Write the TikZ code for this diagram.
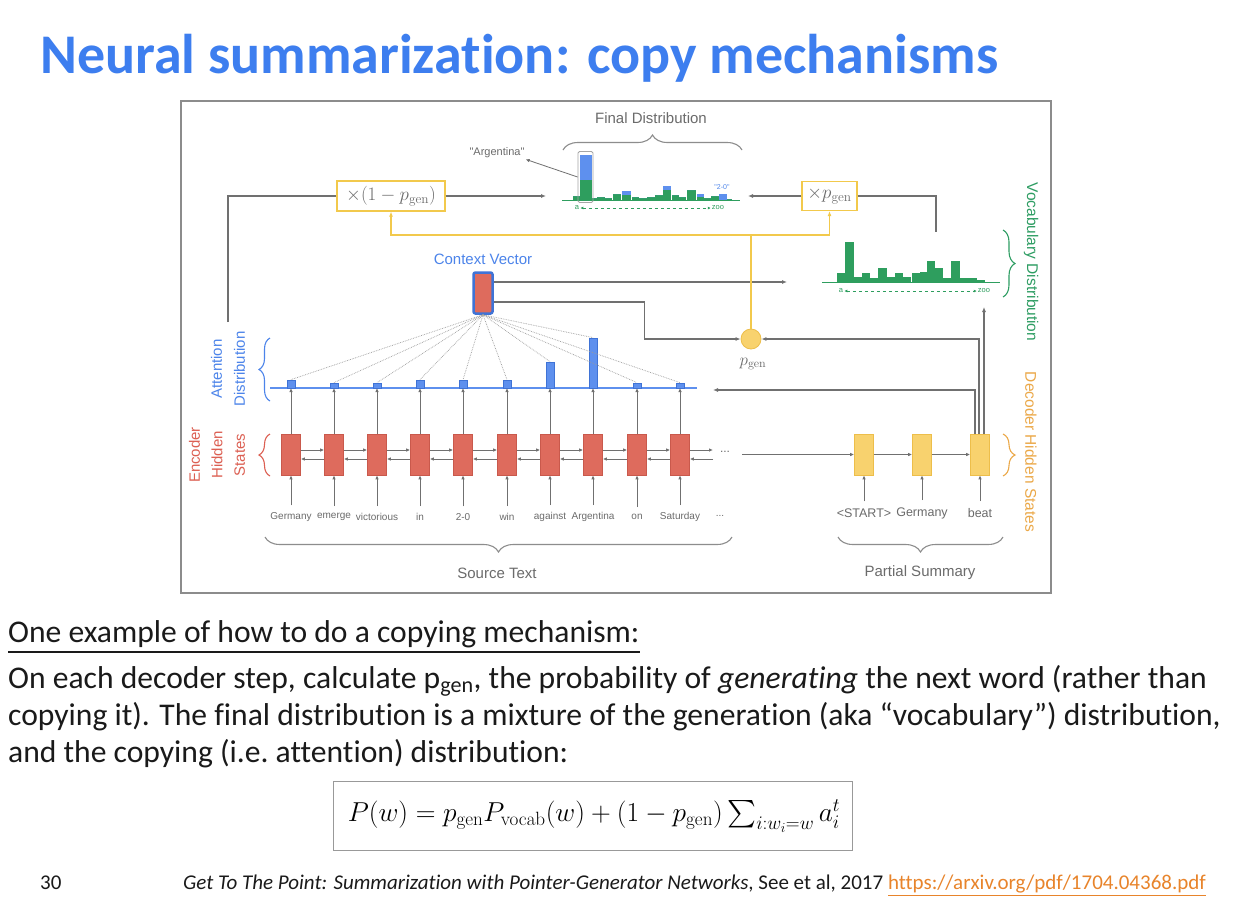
\documentclass[tikz,border=0pt]{standalone}
\usepackage{fix-cm}
\usepackage[no-math]{fontspec}
\setmainfont{Carlito}[Ligatures=NoCommon]
\newfontfamily\dfont{Liberation Sans}
\DeclareFontShape{OMX}{cmex}{m}{n}{<->cmex10}{}
\usetikzlibrary{arrows.meta,decorations.pathreplacing,calc}
\definecolor{titleblue}{HTML}{3D7EEF}
\definecolor{lineg}{HTML}{707070}
\definecolor{txtg}{HTML}{6B6B6B}
\definecolor{frameg}{HTML}{8C8C8C}
\definecolor{encred}{HTML}{DE6B5D}
\definecolor{encredd}{HTML}{C9594C}
\definecolor{attblue}{HTML}{5E90EE}
\definecolor{attblued}{HTML}{3F73D6}
\definecolor{vgreen}{HTML}{2E9E5E}
\definecolor{decy}{HTML}{F8D26E}
\definecolor{decyb}{HTML}{EDBE4A}
\definecolor{yline}{HTML}{F2C94C}
\definecolor{enctxt}{HTML}{DC5F52}
\definecolor{atttxt}{HTML}{4C84EA}
\definecolor{voctxt}{HTML}{2E9D63}
\definecolor{dectxt}{HTML}{EBA848}
\definecolor{urlor}{HTML}{E8842B}
\definecolor{bodytxt}{HTML}{1A1A1A}
\tikzset{
  gl/.style={draw=lineg, line width=1.1pt},
  arr/.style={gl, -{Latex[length=5pt,width=4pt]}},
  sarr/.style={gl, line width=0.9pt, -{Latex[length=4pt,width=3.5pt]}},
  yl/.style={draw=yline, line width=1.3pt},
  yarr/.style={yl, -{Latex[length=5pt,width=4pt]}},
  dtxt/.style={font=\dfont\fontsize{15}{18}\selectfont, text=txtg, inner sep=1pt},
  wtxt/.style={font=\dfont\fontsize{10}{12}\selectfont, text=txtg, inner sep=1pt},
  dwtxt/.style={font=\dfont\fontsize{12.5}{15}\selectfont, text=txtg, inner sep=1pt},
  encbox/.style={draw=encredd, fill=encred, minimum width=19pt, minimum height=41pt, inner sep=0pt, line width=0.6pt},
  decbox/.style={draw=decyb, fill=decy, minimum width=19pt, minimum height=41pt, inner sep=0pt, line width=0.6pt},
  attbar/.style={fill=attblue, draw=attblued, line width=0.4pt, minimum width=8pt, inner sep=0pt, anchor=south},
  mulbox/.style={draw=yline, fill=white, line width=1.2pt, inner sep=0pt, text=txtg},
  brc/.style={decorate, decoration={brace, amplitude=#1}, line width=1.1pt},
  dots/.style={draw=lineg!70, densely dotted, line width=0.7pt},
  body/.style={anchor=base west, inner sep=0pt, text=bodytxt, font=\fontsize{31.6}{36}\selectfont},
}
\begin{document}
\begin{tikzpicture}[x=1pt,y=-1pt]
\useasboundingbox (0,0) rectangle (1234,922);
\fill[white] (0,0) rectangle (1234,922);

% title
\node[anchor=base west, inner sep=0pt, text=titleblue, font=\bfseries\fontsize{56}{60}\selectfont] (title) at (40,73) {Neural summarization: copy mechanisms};

% frame
\node[draw=frameg, line width=1.5pt, minimum width=870pt, minimum height=492pt, anchor=north west, inner sep=0pt] (frame) at (180,100) {};

% ---------- final distribution ----------
\node[dtxt] (fdlab) at (651,118) {Final Distribution};
\draw[brc=15pt, draw=lineg!80] (563,150) -- (742,150);
\foreach \x/\w/\g/\b in {573/7/4/0, 580/12/20/25, 592/5/2/0, 597/8/3/0, 605/7/2/0, 613/8/6/0, 622/9/5/4, 632/7/3/0, 639/8/2/0, 647/8/3/0, 655/8/5/0, 663/8/10/4, 672/7/5/0, 679/7/3/0, 687/9/10/0, 697/7/3/3, 704/7/2/0, 711/8/4/0, 719/8/0/6, 727/5/1/0}
{\fill[vgreen] (\x,200) rectangle ++(\w,-\g);
 \fill[attblue] (\x,200-\g) rectangle ++(\w,-\b);}
\draw[vgreen, line width=1pt] (562,200) -- (740,200);
\node[draw=gray!70, line width=0.8pt, rounded corners=1.5pt, minimum width=15pt, minimum height=51pt, inner sep=0pt] (hl) at (585.5,177) {};
\node[wtxt, font=\dfont\fontsize{11}{13}\selectfont] (arg) at (497,153) {"Argentina"};
\draw[sarr, line width=0.8pt] (hl.west) -- (arg.south east);
\node[inner sep=0pt, text=atttxt, font=\dfont\fontsize{7}{8}\selectfont] (twozero) at (722,187) {"2-0"};
\node[inner sep=1pt, text=vgreen, font=\dfont\fontsize{7.5}{8}\selectfont] (fa) at (577,208) {a};
\node[inner sep=1pt, text=vgreen, font=\dfont\fontsize{7.5}{8}\selectfont] (fz) at (718,208) {zoo};
\draw[vgreen, dashed, line width=0.7pt, {Latex[length=3pt,width=3pt]}-{Latex[length=3pt,width=3pt]}] (fa.east) -- (fz.west);

% multiplier boxes
\node[mulbox, minimum width=108pt, minimum height=30pt] (m1) at (391,196) {\fontsize{19}{22}\selectfont$\times(1-p_{\mathrm{gen}})$};
\node[mulbox, minimum width=55pt, minimum height=29pt] (m2) at (829.5,196) {\fontsize{19}{22}\selectfont$\times p_{\mathrm{gen}}$};
\coordinate (fdl) at (546,196);
\coordinate (fdr) at (748,196);
\draw[arr] (m1.east) -- (fdl);
\draw[arr] (m2.west) -- (fdr);
\coordinate (attout) at (228,322);
\draw[gl] (attout) |- (m1.west);
\coordinate (vtop) at (936,232);
\draw[gl] (m2.east) -| (vtop);

% ---------- vocabulary distribution ----------
\foreach \x/\w/\g in {837/8/9, 845/9/40, 854/8/5, 862/8/9, 870/8/4, 878/9/14, 887/8/5, 895/8/9, 903/8/5, 912/8/9, 920/7/10, 927/8/21, 935/8/14, 943/8/4, 951/9/21, 960/7/4, 967/10/4, 977/8/2}
{\fill[vgreen] (\x,282) rectangle ++(\w,-\g);}
\draw[vgreen, line width=1pt] (822,282) -- (1000,282);
\node[inner sep=1pt, text=vgreen, font=\dfont\fontsize{7.5}{8}\selectfont] (va) at (841,291) {a};
\node[inner sep=1pt, text=vgreen, font=\dfont\fontsize{7.5}{8}\selectfont] (vz) at (984,291) {zoo};
\draw[vgreen, dashed, line width=0.7pt, {Latex[length=3pt,width=3pt]}-{Latex[length=3pt,width=3pt]}] (va.east) -- (vz.west);
\draw[brc=12pt, draw=voctxt] (1003,230) -- (1003,297);
\node[dtxt, text=voctxt, rotate=-90, font=\dfont\fontsize{15.5}{18}\selectfont] (vlab) at (1031,262) {Vocabulary Distribution};

% ---------- context vector ----------
\node[dtxt, text=atttxt] (cvlab) at (483,259) {Context Vector};
\node[fill=encred, draw=attblued, line width=2.5pt, rounded corners=2pt, minimum width=19pt, minimum height=41pt, inner sep=0pt] (cv) at (483,293) {};
\coordinate (vocin) at (787,282);
\draw[arr] ([yshift=11pt]cv.east) -- (vocin);

% p_gen
\node[circle, fill=decy, draw=decyb, line width=0.8pt, minimum size=20pt, inner sep=0pt] (pg) at (751,339) {};
\node[text=txtg, inner sep=0pt, font=\fontsize{17}{20}\selectfont] (pglab) at (753,364) {$p_{\mathrm{gen}}$};
\draw[arr] ([yshift=-9pt]cv.east) -- ++(151,0) |- (pg.west);
\coordinate (yj) at (751,235);
\draw[yarr] (pg.north) -- (yj) -| (m1.south);
\draw[yarr] (yj) -| (m2.south);

% ---------- attention distribution ----------
\coordinate (attL) at (270,388);
\coordinate (attR) at (697,388);
\draw[draw=attblue, line width=1.3pt] (attL) -- (attR);
\foreach \i/\x/\h in {1/291/8, 2/334/5, 3/377/5, 4/420/8, 5/463/8, 6/507/8, 7/550/26, 8/593/50, 9/637/5, 10/680/5}
{\node[attbar, minimum height=\h pt] (a\i) at (\x,388) {};}
\foreach \i in {1,...,10} {\draw[dots] (cv.south) -- (a\i.north);}
\draw[brc=11pt, draw=atttxt] (270,401) -- (270,338);
\node[dtxt, text=atttxt, rotate=90, align=center, font=\dfont\fontsize{15}{23}\selectfont] (attlab) at (228,369) {Attention\\Distribution};

% ---------- encoder ----------
\foreach \i/\x/\wrd in {1/291/Germany, 2/334/emerge, 3/377/victorious, 4/420/in, 5/463/2-0, 6/507/win, 7/550/against, 8/593/Argentina, 9/637/on, 10/680/Saturday}
{\node[encbox] (e\i) at (\x,454.5) {};
 \node[wtxt] (w\i) at (\x,517) {\wrd};
 \draw[sarr, shorten <=6pt] (w\i.north) -- (e\i.south);
 \draw[sarr] (e\i.north) -- (a\i.south);}
\foreach \i [count=\j from 2] in {1,...,9}
{\draw[sarr] ([yshift=4.5pt]e\i.east) -- ([yshift=4.5pt]e\j.west);
 \draw[sarr] ([yshift=-4.5pt]e\j.west) -- ([yshift=-4.5pt]e\i.east);}
\coordinate (er) at (713,454.5);
\draw[sarr] ([yshift=4.5pt]e10.east) -- ([yshift=4.5pt]er);
\draw[sarr] ([yshift=-4.5pt]er) -- ([yshift=-4.5pt]e10.east);
\node[wtxt, font=\dfont\fontsize{12}{14}\selectfont] (edots) at (725,452) {...};
\node[wtxt] (wdots) at (720,516) {...};
\draw[brc=11pt, draw=enctxt] (270,476) -- (270,434);
\node[dtxt, text=enctxt, rotate=90, align=center, font=\dfont\fontsize{15}{22.5}\selectfont] (enclab) at (217,455) {Encoder\\Hidden\\States};
\draw[brc=15pt, draw=lineg!80] (732,537) -- (265,537);
\node[dtxt] (srclab) at (497,573) {Source Text};

% ---------- decoder ----------
\foreach \i/\x/\wrd in {1/864/<START>, 2/922/Germany, 3/980/beat}
{\node[decbox] (d\i) at (\x,454.5) {};
 \node[dwtxt] (dw\i) at (\x,513) {\wrd};
 \draw[sarr, shorten <=6pt] (dw\i.north) -- (d\i.south);}
\draw[sarr] (d1) -- (d2);
\draw[sarr] (d2) -- (d3);
\coordinate (encout) at (742,454.5);
\draw[sarr] (encout) -- (d1.west);
\coordinate (attin) at (713,390);
\draw[arr] ([xshift=-5pt]d3.north) |- (attin);
\draw[arr] ([xshift=-1pt]d3.north) |- (pg.east);
\coordinate (vin) at (984,307);
\draw[arr] (vin |- d3.north) -- (vin);
\draw[brc=12pt, draw=dectxt] (1003,434) -- (1003,476);
\node[dtxt, text=dectxt, rotate=-90, font=\dfont\fontsize{15.5}{18}\selectfont] (dlab) at (1031,452) {Decoder Hidden States};
\draw[brc=15pt, draw=lineg!80] (1003,537) -- (838,537);
\node[dtxt] (pslab) at (920,573) {Partial Summary};

% ---------- slide text ----------
\node[body] (h1) at (8,642) {\underline{One example of how to do a copying mechanism:}};
\node[body] (l1) at (8,688) {On each decoder step, calculate p\textsubscript{gen}, the probability of \textit{generating} the next word (rather than};
\node[body] (l2) at (8,725) {copying it). The final distribution is a mixture of the generation (aka “vocabulary”) distribution,};
\node[body] (l3) at (8,762) {and the copying (i.e.\ attention) distribution:};

\node[draw=gray!80, line width=1pt, minimum width=519pt, minimum height=69pt, inner sep=0pt] (fbox) at (592.5,815.5) {};
\node[inner sep=0pt] (fml) at (594,816) {\fontsize{27.4}{32}\selectfont$P(w)=p_{\mathrm{gen}}P_{\mathrm{vocab}}(w)+(1-p_{\mathrm{gen}})\sum_{i:w_i=w}a_i^t$};

\node[anchor=base west, inner sep=0pt, text=bodytxt, font=\fontsize{21}{24}\selectfont] (pnum) at (40,889) {30};
\node[anchor=base west, inner sep=0pt, text=bodytxt, font=\fontsize{21}{24}\selectfont] (cite) at (183,889) {\textit{Get To The Point: Summarization with Pointer-Generator Networks}, See et al, 2017 \textcolor{urlor}{\underline{https://arxiv.org/pdf/1704.04368.pdf}}};
\end{tikzpicture}
\end{document}
